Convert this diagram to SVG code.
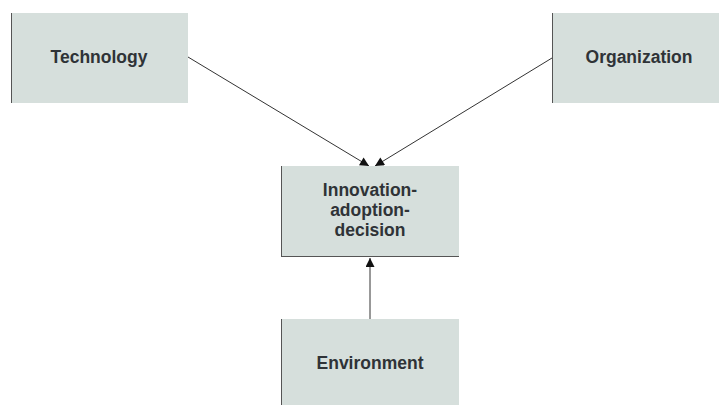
<svg xmlns="http://www.w3.org/2000/svg" width="720" height="405" viewBox="0 0 720 405">
  <defs>
    <linearGradient id="topEdge" x1="0" y1="0" x2="1" y2="0">
      <stop offset="0" stop-color="#555"/>
      <stop offset="0.4" stop-color="#d6dfdc"/>
      <stop offset="1" stop-color="#888"/>
    </linearGradient>
    <linearGradient id="rightEdge" x1="0" y1="0" x2="0" y2="1">
      <stop offset="0" stop-color="#d6dfdc"/>
      <stop offset="1" stop-color="#444"/>
    </linearGradient>
    <marker id="arrow" viewBox="0 0 10 10" refX="10" refY="5" markerWidth="10" markerHeight="9" markerUnits="userSpaceOnUse" orient="auto">
      <path d="M0,0 L10,5 L0,10 z" fill="#111"/>
    </marker>
  </defs>
  <style>
    .box { fill: #d6dfdc; }
    .edgeL { stroke: #555; stroke-width: 1; }
    .edgeT { stroke: url(#topEdge); stroke-width: 1; }
    .edgeR { stroke: url(#rightEdge); stroke-width: 1.2; }
    .label { font-family: "Liberation Sans", Arial, sans-serif; font-weight: bold; font-size: 17.5px; fill: #2f3337; text-anchor: middle; }
    .conn { stroke: #333; stroke-width: 1; fill: none; }
  </style>
  <rect width="720" height="405" fill="#ffffff"/>

  <g id="connectors">
    <line class="conn" x1="188" y1="57" x2="369" y2="166" marker-end="url(#arrow)"/>
    <line class="conn" x1="552" y1="58" x2="375" y2="166" marker-end="url(#arrow)"/>
    <line class="conn" x1="370" y1="319" x2="370" y2="258" marker-end="url(#arrow)"/>
  </g>

  <g id="technology">
    <rect class="box" x="11" y="13" width="177" height="90"/>
    <line class="edgeL" x1="11.5" y1="13" x2="11.5" y2="103"/>
    <line class="edgeT" x1="11" y1="13.5" x2="188" y2="13.5"/>
    <line class="edgeR" x1="187.5" y1="13" x2="187.5" y2="103"/>
    <text class="label" x="99" y="63">Technology</text>
  </g>

  <g id="organization">
    <rect class="box" x="552" y="13" width="167" height="90"/>
    <line class="edgeL" x1="552.5" y1="13" x2="552.5" y2="103"/>
    <line class="edgeT" x1="552" y1="13.5" x2="719" y2="13.5"/>
    <line class="edgeR" x1="718.5" y1="13" x2="718.5" y2="103"/>
    <text class="label" x="639" y="63">Organization</text>
  </g>

  <g id="decision">
    <rect class="box" x="281" y="166" width="178" height="91"/>
    <line class="edgeL" x1="281.5" y1="166" x2="281.5" y2="257"/>
    <line class="edgeT" x1="281" y1="166.5" x2="459" y2="166.5"/>
    <line class="edgeR" x1="458.5" y1="166" x2="458.5" y2="257"/>
    <line class="edgeL" x1="281" y1="256.5" x2="459" y2="256.5" stroke="#777"/>
    <text class="label" x="370" y="196">Innovation-</text>
    <text class="label" x="370" y="216">adoption-</text>
    <text class="label" x="370" y="236">decision</text>
  </g>

  <g id="environment">
    <rect class="box" x="281" y="319" width="178" height="86"/>
    <line class="edgeL" x1="281.5" y1="319" x2="281.5" y2="405"/>
    <line class="edgeT" x1="281" y1="319.5" x2="459" y2="319.5"/>
    <line class="edgeR" x1="458.5" y1="319" x2="458.5" y2="405"/>
    <text class="label" x="370" y="369">Environment</text>
  </g>
</svg>
